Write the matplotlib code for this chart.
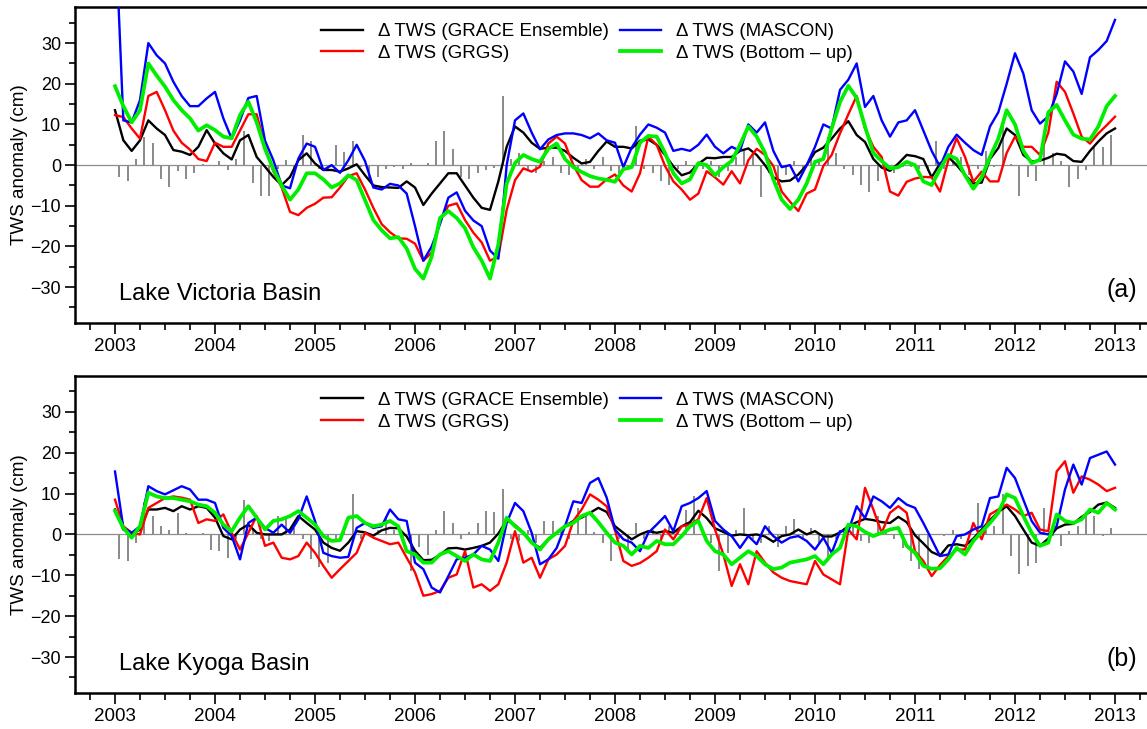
import numpy as np
import matplotlib
matplotlib.use("Agg")
import matplotlib.pyplot as plt
from matplotlib.ticker import MultipleLocator

plt.rcParams['font.family'] = ['Liberation Sans', 'DejaVu Sans']

# monthly TWS anomalies (cm), Jan 2003 .. Jan 2013
vic_grace = [13.5, 6.1, 3.5, 6.1, 11, 9, 7.4, 3.7, 3.3, 2.5,
             4.5, 8.6, 5.3, 2.9, 1.4, 6.1, 7.4, 2, -0.4, -2.9,
             -4.9, -2.9, 1.2, 2.9, 0.4, -1.2, -1.2, -1.6, -0.8, 0.2,
             -2.5, -5, -5.4, -5.5, -5.6, -4, -5.5, -9.8, -7, -4.5,
             -2, -2, -5, -8, -10.5, -11, -4, 4.5, 9.5, 8,
             5.5, 4, 4.3, 4.3, 3.5, 1.8, 0.4, 0.8, 3.5, 5.8,
             4.5, 4.5, 4.1, 6, 6.3, 5, 2.5, -0.3, -2.5, -1.8,
             0.3, 1.8, 1.7, 2, 2, 3.5, 4.1, 2.5, 0, -3,
             -4, -3.8, -2.3, 0, 3.2, 4.3, 6.5, 9, 10.8, 7.4,
             5.7, 1.5, -0.6, -1.4, 0.4, 2.5, 2.2, 1.5, -3, 0.4,
             2, 0, -2.4, -4.5, -4.3, 1.5, 4.2, 9, 7.4, 2.5,
             0.9, 1.1, 1.8, 2.8, 2.5, 1, 0.8, 3.5, 5.8, 7.8,
             9]
vic_grgs = [12.3, 11.8, 9, 6.5, 17, 18, 13.5, 8.5, 5.5, 3.8,
            1.5, 1.0, 5.5, 4.5, 4.5, 8.5, 12.5, 12.5, 4.5, -1.5,
            -5.5, -11.5, -12.3, -10.5, -9.5, -8, -7.9, -5.5, -2.7, -2,
            -6, -10.5, -14.5, -16.5, -18, -18.1, -19.3, -23.5, -21.5, -13.7,
            -10, -9.4, -13.5, -16.6, -19, -23.5, -22.5, -11, -3.7, -0.8,
            -1.6, -0.4, 5.3, 7, 5.3, 0, -3.7, -5.3, -5.3, -3.5,
            -2.3, -5, -6.5, -2, 7, 5, -0.2, -4, -6, -8.5,
            -7, -1.5, -3, -4.8, -1.5, -4.5, 1.2, 4, 2.5, -0.2,
            -6.5, -9, -11.3, -7, -6, -0.2, 2.5, 7.8, 12.5, 17,
            9, 4.5, 2, -6.5, -7.5, -4.1, -3.3, -2.9, -3, -6.5,
            1.2, 6.6, 2, -4.1, -1.6, -4, -4, 3, 7, 4.5,
            4.5, 2.5, 8, 20.5, 18, 12.7, 7, 5.3, 7.8, 9.8,
            11.9]
vic_mascon = [60, 11, 10.5, 16, 30, 27, 25, 20.5, 17, 14.5,
              14.5, 16.4, 18, 11.5, 6.5, 11, 16.5, 17, 6, 1.2,
              -5, -5.7, 1.6, 5.3, 4.5, -1.2, 0, -1.9, 1.2, 5,
              1, -5.5, -6, -4.6, -5, -7, -15, -23.5, -20, -14.5,
              -8, -6.7, -11.2, -13.6, -15, -21, -23, 0, 11, 12.7,
              8, 3.9, 6.3, 7.4, 7.8, 7.8, 7.4, 6.6, 7.8, 6.1,
              5.5, -0.5, 4.3, 7.5, 10, 9.2, 8, 3.5, 4, 3.5,
              5, 7.5, 4.5, 2.9, 4.5, 3.5, 10, 8, 10.5, 3.5,
              -0.5, 0, -4, 0, 4.5, 10, 9, 18.5, 21, 25,
              14.3, 17, 11, 7, 10.5, 11, 13.5, 8.5, 3.5, -0.4,
              4.5, 7.5, 5.5, 3.7, 2.5, 9.5, 13, 20, 27.5, 22.5,
              13.5, 10.2, 12, 17.5, 25.5, 23, 17.5, 26.5, 28.3, 30.5,
              35.7]
vic_bottomup = [19.4, 14.5, 10.5, 13.5, 25, 22, 19.3, 16, 13.5, 11.5,
                8.5, 9.8, 8.6, 7, 6.6, 12.3, 15.6, 10.5, 4, -1,
                -5, -8.5, -6, -2, -2, -3.5, -5.5, -4.5, -2.5, -3.7,
                -8.6, -13.5, -16, -18, -17.7, -20.5, -25.5, -27.9, -22.5, -13,
                -11.3, -13, -15.5, -20.2, -23.5, -27.9, -19.5, -4.5, 0.5, 2.5,
                1.5, 0.8, 4, 5.3, 1.5, -0.5, -1.7, -2.7, -3.3, -3.6,
                -4.1, -1, -0.5, 5.5, 7.2, 7, 3, -2, -4.5, -3.5,
                0.5, 0, -2.5, -0.5, 1, 5, 9.5, 7, 3, -3.5,
                -8.5, -10.8, -8.5, -4.5, 0.8, 1.5, 9, 15.5, 19.5, 16.5,
                9.5, 3, 1, -0.8, -0.5, 0.8, 0, -4, -4.9, -1,
                2.5, 1.5, -2.5, -5.8, -3, 2, 6.5, 13.5, 10, 3.5,
                0.5, 1.3, 13, 14.8, 11, 7.5, 6.5, 6.3, 9.5, 14.5,
                17]
vic_bars = [-3, -4, 1.5, 7, 5.5, -3.5, -5.5, -1.5, -3.5, -2,
            0.3, -0.3, 1, -1.2, 1.5, 8.5, -4.5, -7.5, -7.5, -1,
            1.2, -1, 7.5, 6, -1, -1.5, 5, 3.3, 6, -0.5,
            -3.5, -3, -1, -0.5, -1, 0.5, -0.3, 0.5, 6, 8.5,
            4, -3, -3.5, -2, -1.2, -0.8, 17, 1.5, 3, -1.5,
            -2, 1, 2, -2, -2.5, -1, 1.5, -1, 2, -1.5,
            -2, -1, 9.5, -1, -2, -4, -5, -1, 1, -2,
            -1, 1, -3, -1.5, 2, 4, 3, -7.8, -2, -5,
            -2.5, 1, -1, 2, 1.5, 7, 3, -1, -2.5, -5,
            -6.5, -4, -1, -2, -0.5, -0.5, -1, -1.5, 6, -1,
            1, 2, -2.5, -1, 3.5, -0.5, 10.5, 0.3, -7.5, -3,
            -4, 7.5, 3, 1, -5.5, -3.5, -1.2, 4.5, 4.5, 7.5]

kyo_grace = [6.1, 1.2, 0, 1.2, 6.1, 6.1, 6.5, 5.7, 6.9, 6.1,
             6.9, 6.5, 4.1, -0.4, -1.2, 1.2, 2.4, 0.4, 0, 0,
             0, 1.2, 4.5, 2.8, 1.2, -2, -3.3, -4, -2, 0.8,
             0.5, -0.3, 1, 1.6, 1.5, -0.5, -4, -6.3, -6.2, -5,
             -3.4, -3.3, -3.7, -3.3, -2.8, -2, 0.2, 3.5, 2.3, 0.4,
             -2, -3.3, -1.2, 0.4, 2, 3.3, 4.1, 5.3, 6.5, 5.5,
             2, 0.4, -1.2, 0, 0.8, 0.4, 0.8, 0.4, 2, 3,
             5.8, 4, 1.5, 0.6, -0.3, 0, -0.2, 0, -0.5, -1.8,
             -0.4, 0, 1.2, 0, 0.8, -0.5, -0.5, 0.5, 2, 3,
             3.8, 3.5, 3, 2.8, 4.3, 3, -0.2, -2.2, -4.3, -5.2,
             -2.7, -2.4, -2.8, -1, 1.2, 3.5, 5.5, 6.9, 4.5, 1.2,
             -2, -2.8, -1, 1.5, 2.4, 2.6, 4.3, 5.5, 7.3, 7.8,
             6.5]
kyo_grgs = [8.5, 2, 0.4, 0, 6.5, 7.7, 8.9, 9.3, 9, 8.5,
            2.8, 3.7, 3.3, 4.9, 0.4, -3.7, 0.4, 4.5, -2.8, -2,
            -5.7, -6.1, -5.3, -2, -4.5, -7.7, -10.6, -8.5, -6.5, -4.5,
            0.4, -0.8, -1.6, -2.4, -2, -5.7, -9.3, -15, -14.6, -13.8,
            -10.6, -9.8, -4.1, -13, -12.2, -13.8, -12.2, -6.9, 0.8, -6.9,
            -5.7, -10.6, -6.1, -4.9, -2.8, 3.3, 6.1, 9.8, 8.5, 6.9,
            1, -6.5, -7.7, -7, -5.7, -4.1, 1.2, -1.2, 2, 2.4,
            3.7, 8.9, 1.2, -4.9, -12.6, -7.3, -12.2, -4.1, -6.9, -9.3,
            -10.6, -11.4, -11.8, -12.2, -6.5, -9.8, -11, -12.2, 1.2, -1.2,
            11.4, 6.1, 0.4, 5.3, 6.9, 5.3, -4.1, -6.5, -10.2, -7.5,
            -5.3, -3.7, -3.7, 2.8, -1.2, 4.9, 6.1, 7.3, 6.1, 4.5,
            5.3, 1.2, 0.8, 15.4, 17.9, 10.2, 14.2, 13.4, 12.2, 10.6,
            11.4]
kyo_mascon = [15.4, 1.6, 0.4, 2, 11.8, 10.6, 9.8, 10.8, 11.8, 11,
              8.5, 8.5, 7.7, 1.6, -0.4, -6.1, 2.8, 4.1, 1.6, 0.4,
              2.4, 0.4, 3.7, 9.3, 3.3, -4.5, -5.3, -5.7, -5.5, 1.6,
              2.8, 1.6, 2, 6.1, 3.7, 3.3, -6.9, -8.5, -13, -14.2,
              -10.2, -6.1, -5.7, -4.9, -2.8, -3.7, -6.5, 2.8, 7.7, 5.7,
              0.4, -7.3, -6.1, -3.3, 2, 8.1, 7.7, 12.6, 13.8, 9,
              1.2, -1.2, -2, -4.1, 0.4, 2.4, 4.5, 0.8, 6.9, 7.7,
              8.9, 10.6, 3.3, 1.2, -0.4, -3.3, -0.4, -2.4, 2, -0.4,
              -2, -0.8, -0.4, -1.6, -3.7, -0.8, -4.5, 0.8, 0.8, 6.9,
              4, 9.3, 8.1, 6.5, 8.9, 7.3, 6.5, 2.8, -1.2, -5.3,
              -4.9, -0.4, 0, 1.2, 2, 8.9, 9.3, 16.3, 13.8, 8.5,
              3.3, 0.4, 0, 2, 11, 17.1, 12.2, 18.7, 19.5, 20.3,
              17.1]
kyo_bottomup = [5.7, 1.6, -0.8, 2, 10.2, 9.3, 8.9, 8.9, 8.5, 8.1,
                7.3, 6.9, 5.3, 2.4, 0.8, 4.1, 6.9, 4.1, 1.2, 3.3,
                3.7, 4.5, 5.7, 4.1, 2.4, -0.4, -1.6, -1.4, 4.1, 4.5,
                2.8, 2, 2.4, 3.3, 2, -4.1, -4.9, -6.9, -6.9, -4.9,
                -4.1, -5.3, -6.5, -4.9, -6.1, -6.5, -2, 4.1, 2, 0.4,
                -2, -3.7, -1.2, 0.4, 2, 2.8, 4.5, 5.3, 3, 0.4,
                -2, -2.8, -4.9, -2.8, -3.3, -1.6, -2.4, -2.4, -0.4, 2,
                3.3, -1.6, -4.1, -4.9, -7.3, -5.7, -4.1, -5.3, -7.3, -8.5,
                -8.1, -6.9, -6.5, -6.1, -5.3, -7.3, -4.9, -3.3, 2.4, 2,
                0.6, -0.4, 0.4, 1.2, 1.6, -2.8, -4.5, -7.7, -8.4, -8.3,
                -6.1, -3.3, -4.9, -1.6, 0.6, 2.8, 5.3, 9.8, 8.9, 4.5,
                0.4, -2.8, -2, 4.9, 3.3, 2.8, 3.7, 6.1, 5.3, 7.7,
                6.1]
kyo_bars = [-6, -6.5, -2, 8, 4.5, 2, 1.2, 5.3, 0.4, -0.2,
            0.3, -3.7, -4.1, -5.7, -1, 8.5, 1.5, -1, -1.5, 4.5,
            4.5, 1.5, -1, -6, -8, -7, -1, 1, 9.8, -1,
            -0.5, 1, 4.5, 1, -2, -9, -3, -5, 1.2, 5.7,
            2.8, -1, 0.5, 2.8, 5.7, 5.5, 11.2, -1, -1.5, 1,
            -2, 3.3, 3.3, 1.5, -1, 6.5, 5, 0.5, -2, -6.5,
            -1, -4.5, 2.8, -1, 1, -2, 2, 1.5, 6, 9.3,
            1, -2, -9, -4.5, 1, 6.5, -1, -2, 2, -3,
            2, 3.7, -1, 1.5, -2, -6.5, -1, 1.5, 2.5, -1.5,
            -2, 4.5, 1, -1, -3.3, -6.5, -8.5, -8.5, 0, -0.5,
            1, -1, 0.5, 7.7, 1, 2, 9.8, -5.3, -9.8, -7.7,
            -6.9, 6.5, -0.5, -2.8, 0.8, 2, 5.3, 4.5, -0.5, 1.6]

months = 2003 + np.arange(len(vic_grace)) / 12.0
bar_x = 2003 + (np.arange(len(vic_bars)) + 0.5) / 12.0

panels = [
    (vic_grace, vic_grgs, vic_mascon, vic_bottomup, vic_bars, "Lake Victoria Basin", "(a)"),
    (kyo_grace, kyo_grgs, kyo_mascon, kyo_bottomup, kyo_bars, "Lake Kyoga Basin", "(b)"),
]

fig = plt.figure(figsize=(11.47, 7.29), dpi=100)
positions = [[0.0654, 0.557, 0.9346, 0.433], [0.0654, 0.0494, 0.9346, 0.435]]

for pos, (grace, grgs, mascon, bottom, bars, name, tag) in zip(positions, panels):
    ax = fig.add_axes(pos)
    ax.bar(bar_x, bars, width=0.02, color='#8c8c8c', zorder=1)
    ax.axhline(0, color='#8c8c8c', linewidth=0.9, zorder=1)
    l1, = ax.plot(months, grace, color='black', linewidth=1.7, zorder=3)
    l2, = ax.plot(months, grgs, color='#ff0000', linewidth=1.7, zorder=3)
    l3, = ax.plot(months, mascon, color='#0000ff', linewidth=1.7, zorder=3)
    l4, = ax.plot(months, bottom, color='#00ee00', linewidth=2.7, zorder=4)

    ax.set_xlim(2002.6, 2013.32)
    ax.set_ylim(-38.8, 38.8)
    ax.xaxis.set_major_locator(MultipleLocator(1))
    ax.xaxis.set_minor_locator(MultipleLocator(0.25))
    ax.yaxis.set_major_locator(MultipleLocator(10))
    ax.yaxis.set_minor_locator(MultipleLocator(5))
    ax.xaxis.set_major_formatter(matplotlib.ticker.FormatStrFormatter('%d'))
    ax.tick_params(axis='x', which='major', length=8, width=1.2, labelsize=13.5, pad=3)
    ax.tick_params(axis='x', which='minor', length=5, width=1.2)
    ax.tick_params(axis='y', which='major', length=7, width=1.2, labelsize=13, pad=3)
    ax.tick_params(axis='y', which='minor', length=4.5, width=1.2)
    for s in ['left', 'bottom', 'top']:
        ax.spines[s].set_linewidth(1.8)
    ax.spines['right'].set_visible(False)
    ax.set_ylabel("TWS anomaly (cm)", fontsize=13.5, labelpad=2)

    ax.legend([l1, l2, l3, l4],
              ["Δ TWS (GRACE Ensemble)", "Δ TWS (GRGS)",
               "Δ TWS (MASCON)", "Δ TWS (Bottom – up)"],
              ncol=2, frameon=False, fontsize=13.5, loc='upper left',
              bbox_to_anchor=(0.221, 0.98), borderpad=0, handlelength=2.2,
              handletextpad=0.8, columnspacing=0.6, labelspacing=0.25)

    ax.text(2003.04, -31.8, name, fontsize=17, ha='left', va='center')
    ax.text(2013.22, -30.6, tag, fontsize=18, ha='right', va='center')

fig.savefig("out.png", dpi=100)
